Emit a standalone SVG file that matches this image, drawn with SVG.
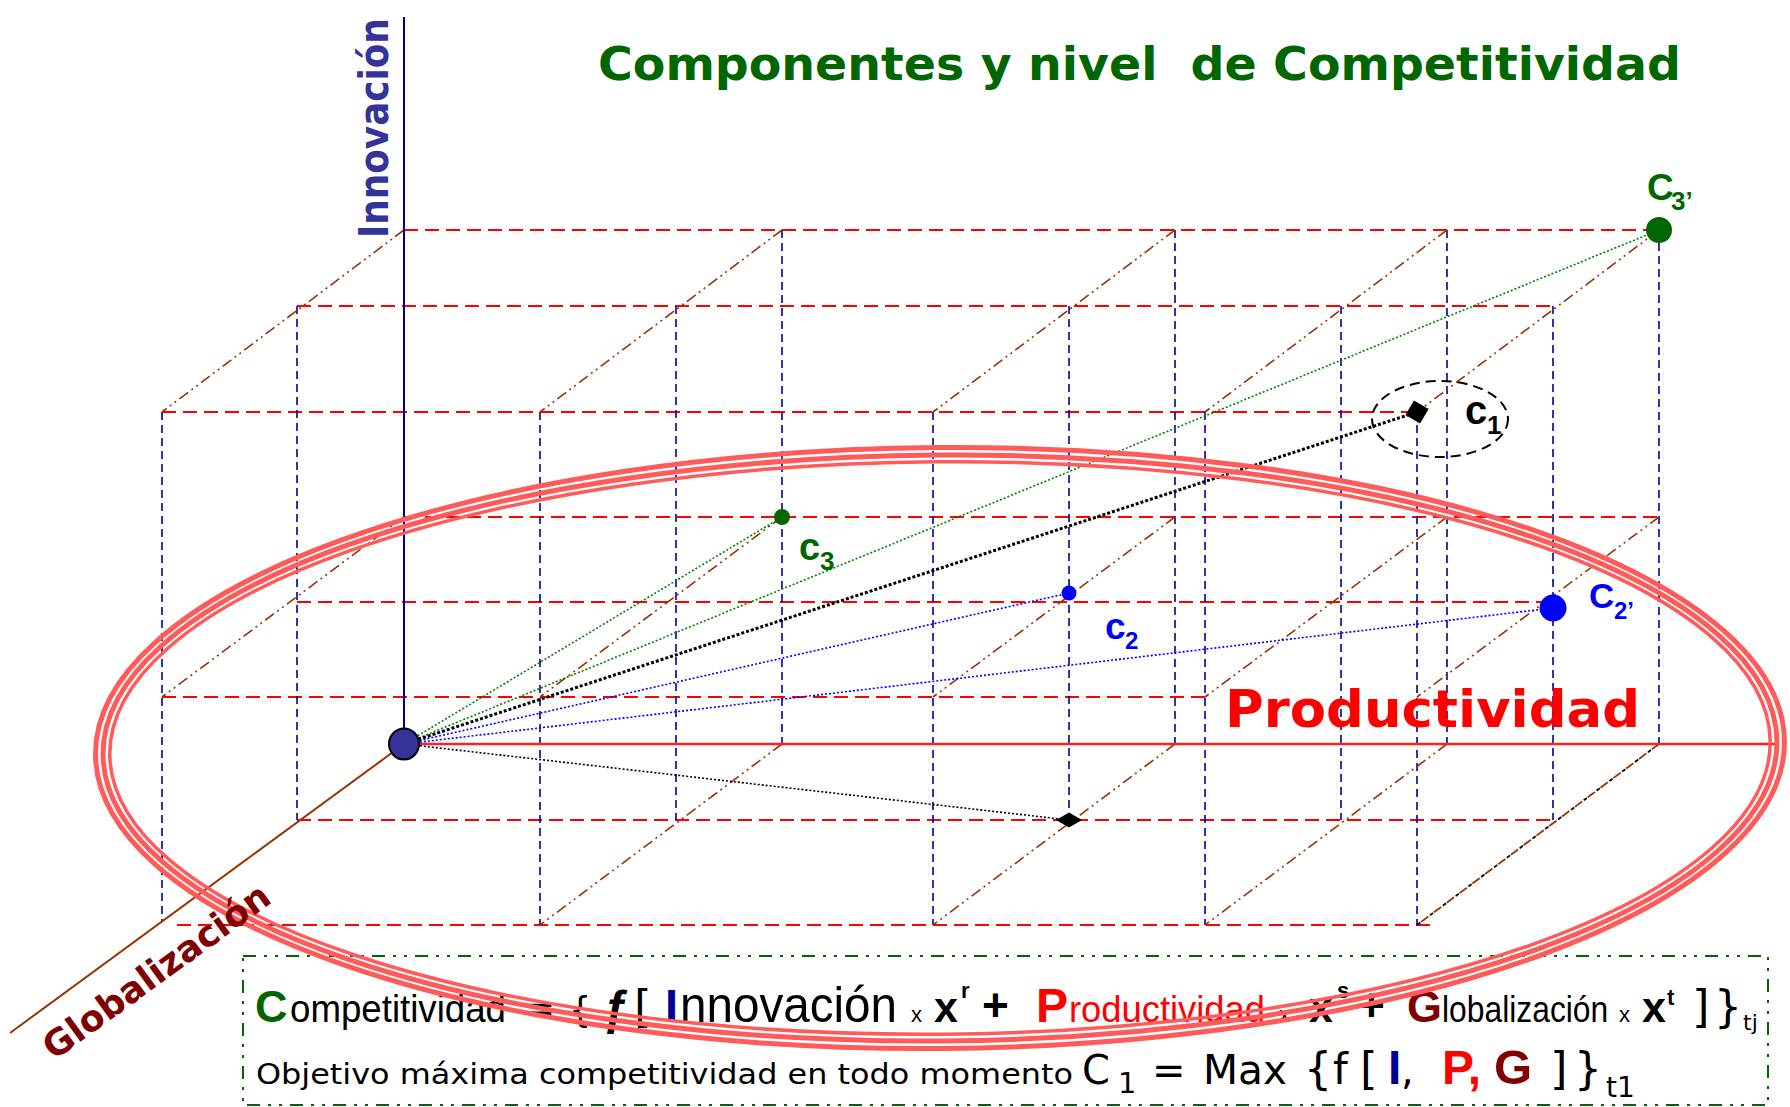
<svg xmlns="http://www.w3.org/2000/svg" width="1790" height="1107" viewBox="0 0 1790 1107">
<style>
.rd{stroke:#ff0000;stroke-width:2;stroke-dasharray:14 7;fill:none}
.bd{stroke:#000099;stroke-width:1.6;stroke-dasharray:8 5;fill:none}
.br{stroke:#993300;stroke-width:1.6;stroke-dasharray:11 4 2 4 2 4;fill:none}
.dot{fill:none;stroke-width:1.6;stroke-dasharray:2 2}
.ring{fill:none;stroke:#ff5b5b}
.ls{font-family:"Liberation Sans",Arial,sans-serif}
.dv{font-family:"DejaVu Sans",Verdana,sans-serif}
.b{font-weight:bold}
</style>
<rect width="1790" height="1107" fill="#ffffff"/>

<g id="grid">
  <line class="rd" x1="404" y1="230" x2="1659" y2="230"/>
  <line class="rd" x1="404" y1="517" x2="1659" y2="517"/>
  <line class="rd" x1="297" y1="306" x2="1553" y2="306"/>
  <line class="rd" x1="297" y1="602" x2="1553" y2="602"/>
  <line class="rd" x1="297" y1="820" x2="1553" y2="820"/>
  <line class="rd" x1="162" y1="412" x2="1417" y2="412"/>
  <line class="rd" x1="162" y1="697" x2="1211" y2="697"/>
  <line class="rd" x1="177" y1="925" x2="1432" y2="925"/>

  <line class="bd" x1="782" y1="230" x2="782" y2="744"/>
  <line class="bd" x1="1175" y1="230" x2="1175" y2="744"/>
  <line class="bd" x1="1447" y1="230" x2="1447" y2="744"/>
  <line class="bd" x1="1659" y1="230" x2="1659" y2="744"/>
  <line class="bd" x1="297" y1="306" x2="297" y2="820"/>
  <line class="bd" x1="676" y1="306" x2="676" y2="820"/>
  <line class="bd" x1="1069" y1="306" x2="1069" y2="820"/>
  <line class="bd" x1="1341" y1="306" x2="1341" y2="820"/>
  <line class="bd" x1="1553" y1="306" x2="1553" y2="820"/>
  <line class="bd" x1="162" y1="412" x2="162" y2="922"/>
  <line class="bd" x1="540" y1="412" x2="540" y2="925"/>
  <line class="bd" x1="933" y1="412" x2="933" y2="925"/>
  <line class="bd" x1="1205" y1="412" x2="1205" y2="925"/>
  <line class="bd" x1="1417" y1="412" x2="1417" y2="925"/>

  <line class="br" x1="404" y1="230" x2="162" y2="412"/>
  <line class="br" x1="404" y1="517" x2="162" y2="697"/>
  <line class="br" x1="782" y1="230" x2="540" y2="412"/>
  <line class="br" x1="782" y1="517" x2="540" y2="697"/>
  <line class="br" x1="782" y1="744" x2="540" y2="925"/>
  <line class="br" x1="1175" y1="230" x2="933" y2="412"/>
  <line class="br" x1="1175" y1="517" x2="933" y2="697"/>
  <line class="br" x1="1175" y1="744" x2="933" y2="925"/>
  <line class="br" x1="1447" y1="230" x2="1205" y2="412"/>
  <line class="br" x1="1447" y1="517" x2="1205" y2="697"/>
  <line class="br" x1="1447" y1="744" x2="1205" y2="925"/>
  <line class="br" x1="1659" y1="230" x2="1417" y2="412"/>
  <line class="br" x1="1659" y1="517" x2="1417" y2="697"/>
  <line x1="1659" y1="744" x2="1417" y2="925" stroke="#993300" stroke-width="1.8" stroke-dasharray="9 7"/>
  <line x1="1659" y1="744" x2="1417" y2="925" stroke="#000000" stroke-width="1.8" stroke-dasharray="4 12" stroke-dashoffset="-10"/>
</g>

<g id="axes">
  <line x1="404" y1="17" x2="404" y2="744" stroke="#000099" stroke-width="2"/>
  <line x1="404" y1="744" x2="1777" y2="744" stroke="#ff2020" stroke-width="2.4"/>
  <line x1="404" y1="744" x2="10" y2="1033" stroke="#993300" stroke-width="2"/>
</g>

<g id="connectors">
  <line class="dot" stroke="#008000" x1="404" y1="744" x2="782" y2="517"/>
  <line class="dot" stroke="#008000" x1="404" y1="744" x2="1659" y2="230"/>
  <line x1="404" y1="744" x2="1417" y2="412" stroke="#000000" stroke-width="3" stroke-dasharray="3 2"/>
  <line class="dot" stroke="#0000ff" x1="404" y1="744" x2="1069" y2="593"/>
  <line class="dot" stroke="#0000ff" x1="404" y1="744" x2="1553" y2="608"/>
  <line class="dot" stroke="#000000" x1="404" y1="744" x2="1069" y2="820"/>
</g>

<g id="formula-box">
  <rect x="243" y="956" width="1525" height="149" fill="none" stroke="#006600" stroke-width="2" stroke-dasharray="13 8 3 8 3 8"/>
</g>

<g id="formula">
  <text class="ls b" x="255" y="1022" font-size="45" fill="#006600">C</text>
  <text class="ls" x="290" y="1022" font-size="38" fill="#000" textLength="216" lengthAdjust="spacingAndGlyphs">ompetitividad</text>
  <text class="dv" y="1022" fill="#000"><tspan x="522" font-size="40">=</tspan><tspan x="569" font-size="35">{</tspan><tspan x="603" y="1024" class="ls b" font-size="48">ƒ</tspan><tspan x="634" y="1022" font-size="45">[</tspan><tspan x="665" class="ls b" font-size="47" fill="#000099">I</tspan></text>
  <text class="ls" x="680" y="1022" font-size="50" fill="#000" textLength="217" lengthAdjust="spacingAndGlyphs">nnovación</text>
  <text class="ls" y="1022" fill="#000"><tspan x="911" font-size="22">x</tspan><tspan x="934" class="b" font-size="43">x</tspan><tspan x="961" y="998" class="b" font-size="22">r</tspan><tspan x="982" y="1021" class="b" font-size="46">+</tspan><tspan x="1036" y="1022" class="b" font-size="48" fill="#ff0000">P</tspan></text>
  <text class="ls" x="1069" y="1022" font-size="37" fill="#ff0000" textLength="196" lengthAdjust="spacingAndGlyphs">roductividad</text>
  <text class="ls" y="1022" fill="#000"><tspan x="1279" font-size="22">x</tspan><tspan x="1309" class="b" font-size="43">x</tspan><tspan x="1337" y="998" class="b" font-size="22">s</tspan><tspan x="1358" y="1021" class="b" font-size="46">+</tspan><tspan x="1407" y="1022" class="b" font-size="45" fill="#800000">G</tspan></text>
  <text class="ls" transform="translate(1442,1022) scale(0.86,1)" font-size="37" fill="#000">lobalización</text>
  <text class="ls" y="1022" fill="#000"><tspan x="1619" font-size="22">x</tspan><tspan x="1642" class="b" font-size="43">x</tspan><tspan x="1667" y="1005" class="b" font-size="22">t</tspan><tspan x="1692" y="1022" class="dv" font-size="45">]</tspan><tspan x="1714" class="dv" font-size="44">}</tspan><tspan x="1743" y="1030" class="dv" font-size="22">tj</tspan></text>

  <text class="dv" x="256" y="1084" font-size="29" fill="#000" textLength="817" lengthAdjust="spacingAndGlyphs">Objetivo máxima competitividad en todo momento</text>
  <text class="dv" y="1083.5" fill="#000"><tspan x="1082" font-size="40">C</tspan><tspan x="1118" y="1093" font-size="29">1</tspan><tspan x="1152" y="1083.5" font-size="40">=</tspan></text>
  <text class="dv" x="1203" y="1083.5" font-size="40" fill="#000" textLength="84" lengthAdjust="spacingAndGlyphs">Max</text>
  <text class="dv" y="1083.5" fill="#000"><tspan x="1304" font-size="44">{</tspan><tspan x="1333" font-size="42">f</tspan><tspan x="1360" font-size="45">[</tspan><tspan x="1388" class="ls b" font-size="48" fill="#000099">I</tspan><tspan x="1401" font-size="40">,</tspan><tspan x="1442" class="ls b" font-size="48" fill="#ff0000">P,</tspan><tspan x="1494" class="ls b" font-size="49" fill="#800000">G</tspan><tspan x="1550" font-size="45">]</tspan><tspan x="1574" font-size="44">}</tspan><tspan x="1606" y="1096.5" font-size="28">t1</tspan></text>
</g>

<g id="ring" transform="rotate(-0.45 940 748)">
  <ellipse class="ring" cx="940" cy="748" rx="844.5" ry="300.5" stroke-width="5"/>
  <ellipse class="ring" cx="940" cy="748" rx="837" ry="293" stroke-width="5"/>
  <ellipse class="ring" cx="940" cy="748" rx="830.25" ry="286.25" stroke-width="3.5"/>
</g>

<g id="c1-halo">
  <ellipse cx="1440" cy="419" rx="68" ry="38" fill="none" stroke="#000" stroke-width="2" stroke-dasharray="10 6"/>
</g>

<g id="origin">
  <ellipse cx="404" cy="744" rx="15" ry="15.5" fill="#333399" stroke="#000" stroke-width="2"/>
</g>
<g id="node-c3">
  <circle cx="782" cy="517" r="8" fill="#006600"/>
  <text class="ls b" y="560" fill="#006600"><tspan x="799" font-size="38">c</tspan><tspan x="820" y="570" font-size="26">3</tspan></text>
</g>
<g id="node-c3p">
  <circle cx="1659" cy="230" r="13" fill="#006600"/>
  <text class="ls b" y="200" fill="#006600"><tspan x="1647" font-size="37">C</tspan><tspan x="1671" y="210" font-size="26">3’</tspan></text>
</g>
<g id="node-c2">
  <circle cx="1069" cy="593" r="7.5" fill="#0000ff"/>
  <text class="ls b" y="639" fill="#0000ff"><tspan x="1105" font-size="37">c</tspan><tspan x="1125" y="649" font-size="24">2</tspan></text>
</g>
<g id="node-c2p">
  <circle cx="1553" cy="608" r="13.5" fill="#0000ff"/>
  <text class="ls b" y="608" fill="#0000ff"><tspan x="1589" font-size="35">C</tspan><tspan x="1614" y="619" font-size="24">2’</tspan></text>
</g>
<g id="node-c1">
  <rect x="1408.5" y="403.5" width="17" height="17" fill="#000" transform="rotate(30 1417 412)"/>
  <text class="ls b" y="424" fill="#000"><tspan x="1465" font-size="40">c</tspan><tspan x="1487" y="434" font-size="26">1</tspan></text>
</g>
<g id="node-low">
  <polygon points="1056,820 1069,812.5 1082,820 1069,827.5" fill="#000"/>
</g>

<g id="labels">
  <text class="dv b" x="598" y="80" font-size="46" fill="#006600" textLength="1083" lengthAdjust="spacingAndGlyphs" xml:space="preserve">Componentes y nivel  de Competitividad</text>
  <text class="dv b" transform="translate(388,238) rotate(-90) scale(0.895,1)" font-size="40" fill="#333399">Innovación</text>
  <text class="dv b" x="1225" y="727" font-size="51" fill="#ff0000" textLength="415" lengthAdjust="spacingAndGlyphs">Productividad</text>
  <text class="dv b" transform="translate(54,1061) rotate(-36)" font-size="36" fill="#800000" textLength="271" lengthAdjust="spacingAndGlyphs">Globalización</text>
</g>
</svg>
